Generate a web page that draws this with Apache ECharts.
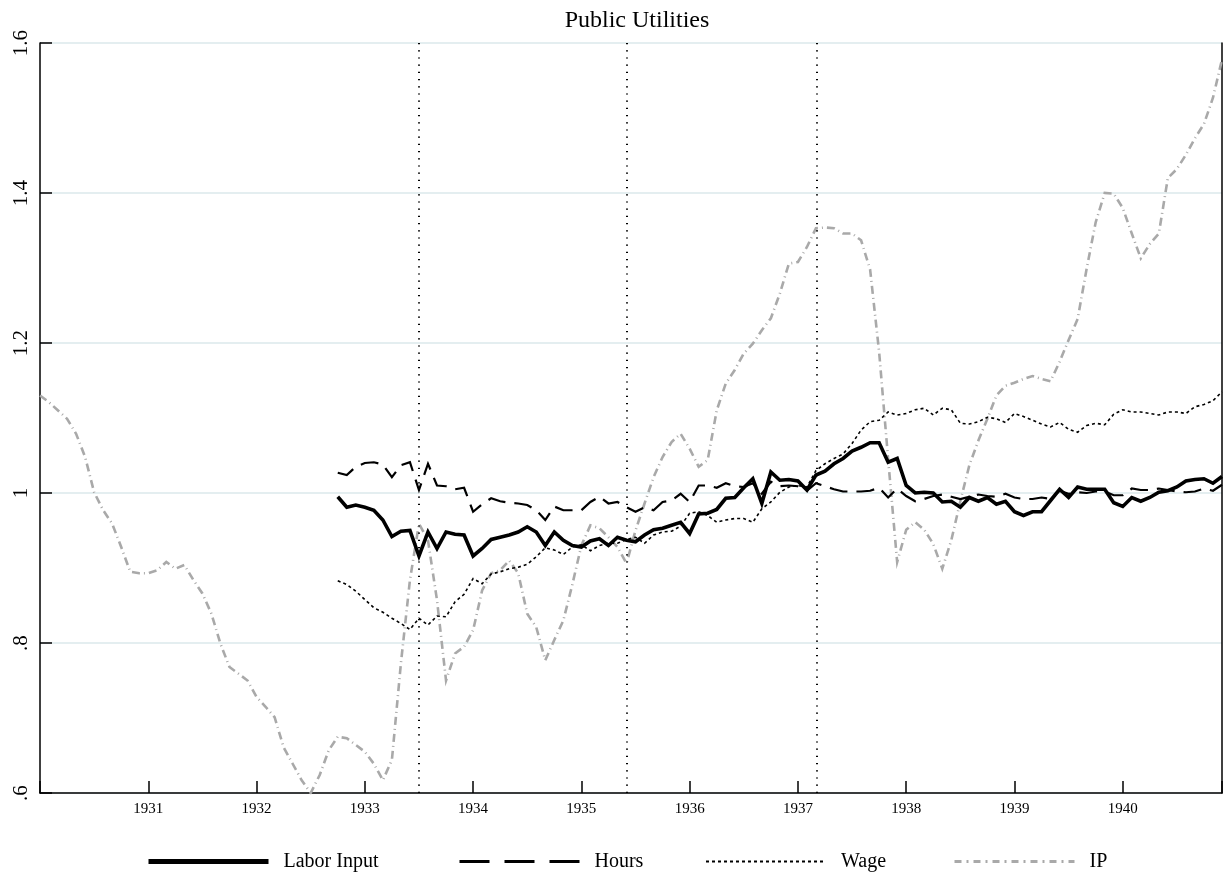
<!DOCTYPE html>
<html>
<head>
<meta charset="utf-8">
<script src="https://cdn.jsdelivr.net/npm/echarts@6/dist/echarts.min.js"></script>
<style>
html,body{margin:0;padding:0;background:#fff;}
#chart{width:1225px;height:880px;}
</style>
</head>
<body>
<div id="chart"></div>
<script>
// Monthly data, first month 1930m1
const START_YEAR = 1930;
const yTicks = ['1.6','1.4','1.2','1','.8','.6'];
const xTickYears = [1931,1932,1933,1934,1935,1936,1937,1938,1939,1940];
const seriesNames = ['Labor Input','Hours','Wage','IP'];
const eventMonths = ['1933-07','1935-06','1937-03'];

// IP: 1930m1 .. 1940m12
const ip = [
1.130,1.121,1.110,1.099,1.079,1.048,1.001,0.977,0.959,0.928,0.895,0.893,
0.893,0.897,0.908,0.899,0.904,0.884,0.866,0.839,0.799,0.768,0.759,0.750,
0.728,0.715,0.701,0.661,0.639,0.617,0.600,0.624,0.657,0.675,0.673,0.664,
0.655,0.639,0.617,0.644,0.773,0.884,0.959,0.937,0.857,0.750,0.786,0.795,
0.817,0.870,0.893,0.897,0.910,0.893,0.839,0.821,0.777,0.804,0.830,0.878,
0.930,0.957,0.953,0.941,0.928,0.906,0.950,0.986,1.021,1.048,1.068,1.079,
1.059,1.035,1.044,1.110,1.146,1.164,1.186,1.199,1.217,1.233,1.266,1.306,
1.308,1.328,1.353,1.354,1.353,1.346,1.346,1.337,1.298,1.188,1.045,0.908,
0.951,0.961,0.951,0.932,0.899,0.937,0.989,1.037,1.070,1.099,1.130,1.143,
1.147,1.152,1.156,1.152,1.149,1.175,1.204,1.232,1.299,1.361,1.400,1.399,
1.380,1.346,1.313,1.332,1.346,1.420,1.432,1.451,1.473,1.492,1.527,1.578
];

// Labor Input, Hours, Wage: 1932m10 .. 1940m12
const LABOR_START = '1932-10';
const laborInput = [
0.995,0.981,0.984,
0.981,0.977,0.964,0.942,0.949,0.950,0.916,0.948,0.926,0.948,0.945,0.944,
0.916,0.926,0.938,0.941,0.944,0.948,0.955,0.948,0.930,0.948,0.937,0.930,
0.928,0.936,0.939,0.930,0.941,0.937,0.935,0.944,0.951,0.953,0.957,0.961,
0.946,0.972,0.973,0.978,0.993,0.994,1.007,1.019,0.986,1.028,1.017,1.018,
1.016,1.004,1.024,1.029,1.039,1.046,1.056,1.061,1.067,1.067,1.041,1.046,
1.010,1.000,1.001,1.000,0.988,0.989,0.981,0.994,0.989,0.994,0.985,0.989,
0.975,0.970,0.975,0.975,0.990,1.005,0.994,1.008,1.005,1.005,1.005,0.987,
0.982,0.994,0.989,0.994,1.001,1.003,1.008,1.016,1.018,1.019,1.013,1.022
];
const hours = [
1.027,1.024,1.035,
1.040,1.041,1.038,1.021,1.037,1.041,1.004,1.039,1.010,1.009,1.005,1.007,
0.975,0.985,0.993,0.989,0.987,0.986,0.984,0.977,0.964,0.982,0.977,0.977,
0.977,0.988,0.995,0.986,0.988,0.981,0.975,0.981,0.977,0.988,0.990,0.999,
0.988,1.010,1.010,1.007,1.013,1.009,1.008,1.013,0.999,1.015,1.009,1.010,
1.009,1.003,1.013,1.009,1.005,1.002,1.002,1.002,1.003,1.007,0.994,1.006,
0.996,0.989,0.992,0.996,0.998,0.995,0.992,0.995,0.998,0.996,0.995,0.999,
0.994,0.992,0.992,0.994,0.992,1.003,0.999,1.001,1.000,1.002,1.002,0.997,
0.997,1.006,1.004,1.004,1.006,1.004,1.002,1.001,1.002,1.006,1.003,1.011
];
const wage = [
0.883,0.878,0.869,
0.858,0.847,0.841,0.833,0.826,0.818,0.833,0.824,0.836,0.835,0.855,0.865,
0.886,0.879,0.892,0.895,0.899,0.901,0.905,0.915,0.927,0.924,0.918,0.928,
0.931,0.923,0.930,0.933,0.933,0.938,0.941,0.933,0.944,0.948,0.949,0.956,
0.973,0.975,0.970,0.961,0.964,0.966,0.966,0.961,0.979,0.988,1.001,1.008,
1.010,1.008,1.030,1.039,1.046,1.052,1.066,1.084,1.095,1.097,1.108,1.104,
1.106,1.111,1.113,1.104,1.113,1.111,1.093,1.092,1.095,1.101,1.099,1.094,
1.106,1.102,1.097,1.092,1.088,1.094,1.085,1.081,1.090,1.093,1.091,1.105,
1.111,1.108,1.108,1.106,1.104,1.108,1.108,1.106,1.115,1.118,1.123,1.135
];

function monthToX(s){
  const [y,m] = s.split('-').map(Number);
  return y + (m-1)/12;
}
function pairs(arr, startStr){
  const x0 = monthToX(startStr);
  return arr.map((v,i)=>[x0 + i/12, v]);
}

const SERIF = '"Liberation Serif","DejaVu Serif",serif';
const chart = echarts.init(document.getElementById('chart'), null, {renderer:'canvas'});

const styles = {
  'Labor Input': {color:'#000', width:3.6, type:'solid'},
  'Hours': {color:'#000', width:2.2, type:[18,9]},
  'Wage': {color:'#000', width:1.6, type:[3,3]},
  'IP': {color:'#a9a9a9', width:2.6, type:[8,4,1,4]}
};
const legendStyles = {
  'Labor Input': {color:'#000', width:5, type:'solid'},
  'Hours': {color:'#000', width:3, type:[30,15]},
  'Wage': {color:'#000', width:2, type:[3,3]},
  'IP': {color:'#a9a9a9', width:3, type:[7,5,2,5]}
};
const dataMap = {
  'Labor Input': pairs(laborInput, LABOR_START),
  'Hours': pairs(hours, LABOR_START),
  'Wage': pairs(wage, LABOR_START),
  'IP': pairs(ip, START_YEAR + '-01')
};
const legendLefts = [141, 453, 700, 948];

const series = seriesNames.slice().reverse().map(name => ({
  name, type:'line', data: dataMap[name], showSymbol:false, symbol:'none',
  smooth:false, animation:false, clip:true,
  lineStyle:{color:styles[name].color, width:styles[name].width, type:styles[name].type, cap:'butt', join:'miter'},
  itemStyle:{color:styles[name].color},
  z: name==='IP'?2:(name==='Labor Input'?5:4)
}));
series.push({
  name:'events', type:'line', data:[], showSymbol:false,
  markLine:{
    silent:true, symbol:['none','none'], label:{show:false}, animation:false,
    lineStyle:{color:'#000', width:2, type:[1.2,6]},
    data: eventMonths.map(m=>({xAxis: monthToX(m)}))
  }
});

chart.setOption({
  backgroundColor:'#fff',
  animation:false,
  title:{text:'Public Utilities', left:632, top:4, textAlign:'center',
    textStyle:{fontFamily:SERIF, fontSize:24, fontWeight:'normal', color:'#000'}},
  legend: seriesNames.map((name,i)=>({
    data:[name], left:legendLefts[i], top:846, itemWidth:120, itemHeight:26, itemGap:0,
    itemStyle:{opacity:0, borderWidth:0},
    lineStyle:{color:legendStyles[name].color, width:legendStyles[name].width, type:legendStyles[name].type, cap:'butt'},
    textStyle:{fontFamily:SERIF, fontSize:20, color:'#000', padding:[0,0,0,10]},
    selectedMode:false
  })),
  grid:{left:40, right:1, top:43, bottom:87, containLabel:false},
  xAxis:{
    type:'value', min:START_YEAR, max:1940 + 11/12, interval:1,
    axisLine:{show:true, lineStyle:{color:'#000', width:1.5}},
    axisTick:{show:true, inside:true, length:12, lineStyle:{color:'#000', width:1.5}},
    splitLine:{show:false},
    axisLabel:{fontFamily:SERIF, fontSize:15, color:'#000', margin:9,
      formatter: v => xTickYears.includes(Math.round(v)) && Math.abs(v-Math.round(v))<1e-6 ? String(Math.round(v)) : ''}
  },
  yAxis:[{
    type:'value', min:0.6, max:1.6, interval:0.2,
    axisLine:{show:true, lineStyle:{color:'#000', width:1.5}},
    axisTick:{show:true, inside:true, length:12, lineStyle:{color:'#000', width:1.5}},
    splitLine:{show:true, lineStyle:{color:'#e4eef0', width:2}},
    axisLabel:{fontFamily:SERIF, fontSize:21, color:'#000', rotate:90, margin:8,
      formatter: v => { const idx = Math.round((1.6 - v)/0.2); return yTicks[idx] || ''; }}
  },{
    type:'value', min:0.6, max:1.6, position:'right',
    axisLine:{show:true, lineStyle:{color:'#000', width:1.5}},
    axisTick:{show:false}, axisLabel:{show:false}, splitLine:{show:false}
  }],
  series
});
</script>
</body>
</html>
